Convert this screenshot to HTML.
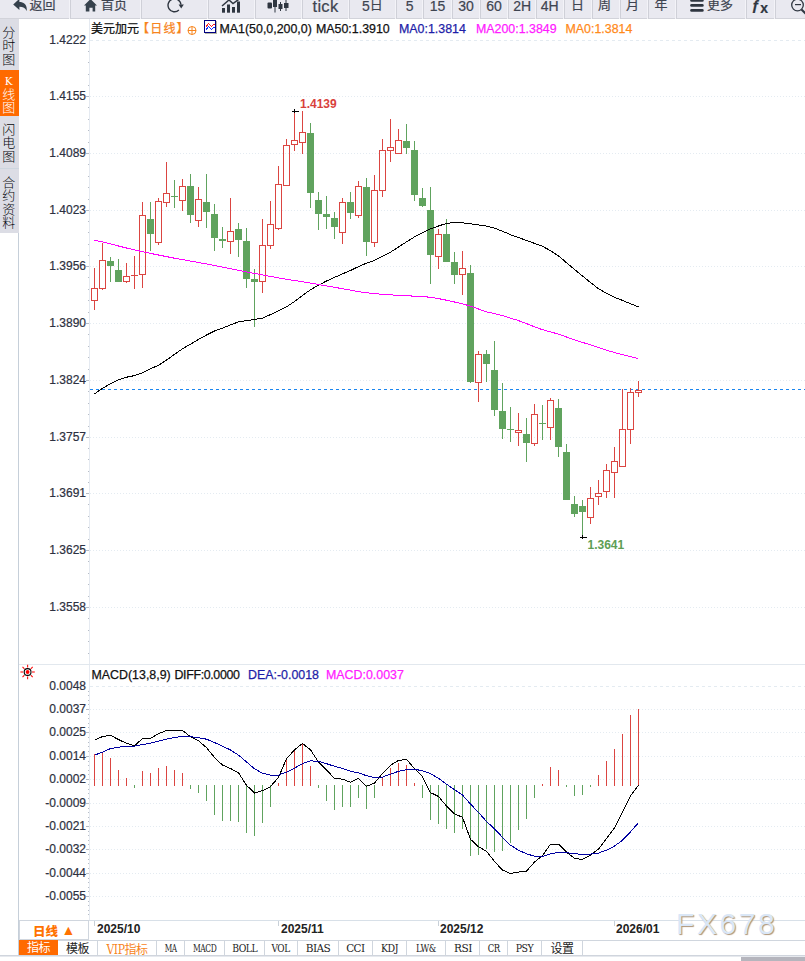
<!DOCTYPE html>
<html><head><meta charset="utf-8">
<style>
*{margin:0;padding:0;box-sizing:border-box}
html,body{width:805px;height:961px;overflow:hidden;background:#fff}
body{position:relative;font-family:"Liberation Sans","Noto Sans CJK SC",sans-serif;}
.abs{position:absolute}
#tb{position:absolute;left:0;top:0;width:805px;height:19px;background:#e9e9f0;border-bottom:1px solid #d2d3da}
.sep{position:absolute;top:0;width:2px;height:19px;border-left:1px solid #f3f3f8;border-right:1px solid #cfd0d8;margin-left:-1px}
.tt{position:absolute;top:-3px;font-size:13px;line-height:15px;color:#3e4450;white-space:nowrap;-webkit-text-stroke:0.2px currentColor}
#sb{position:absolute;left:0;top:19px;width:19px;height:214px;background:#dcdde5}
.tab{position:absolute;left:0;width:17.5px;font-family:"Noto Sans CJK SC",sans-serif;font-weight:300;font-size:13px;line-height:13.4px;color:#06080c;text-align:center}
.yl{position:absolute;right:719px;font-size:12px;line-height:16px;color:#2c3040;-webkit-text-stroke:0.2px currentColor;text-align:right;white-space:nowrap}
.hd{position:absolute;font-size:12.4px;line-height:14px;white-space:nowrap;-webkit-text-stroke:0.25px currentColor}
#bt{position:absolute;left:19px;top:940px;height:16px;}
.bt{position:absolute;top:940px;height:16px;border-right:1px solid #d0d6de;border-top:1px solid #d0d6de;font-family:"DejaVu Serif Condensed","DejaVu Serif","Noto Sans CJK SC",serif;font-size:10.5px;letter-spacing:-0.5px;line-height:15px;text-align:center;color:#222}
</style></head><body>
<div id="tb"><div class="sep" style="left:70px"></div><div class="sep" style="left:141px"></div><div class="sep" style="left:208px"></div><div class="sep" style="left:255px"></div><div class="sep" style="left:302px"></div><div class="sep" style="left:349px"></div><div class="sep" style="left:396px"></div><div class="sep" style="left:423px"></div><div class="sep" style="left:452px"></div><div class="sep" style="left:480px"></div><div class="sep" style="left:508px"></div><div class="sep" style="left:536px"></div><div class="sep" style="left:564px"></div><div class="sep" style="left:592px"></div><div class="sep" style="left:620px"></div><div class="sep" style="left:648px"></div><div class="sep" style="left:676px"></div><div class="sep" style="left:746px"></div><div class="sep" style="left:775px"></div>
<svg class="abs" style="left:0;top:0" width="805" height="18">
 <path d="M13.2,4.4 L19.4,-1.2 L19.4,2.1 C24,2.1 27.6,5.2 26.6,11 C25.4,8 23.2,6.8 19.4,6.8 L19.4,9.9 Z" fill="#34404b"/>
 <path d="M90.5,-1 L84,5.6 L85.8,5.6 L85.8,11.6 L89.4,11.6 L89.4,7.8 L92.6,7.8 L92.6,11.6 L95.2,11.6 L95.2,5.6 L97,5.6 Z" fill="#37424d"/>
 <path d="M178.9,10.1 A6.5,6.5 0 1 1 181,4.6" fill="none" stroke="#2f3640" stroke-width="1.4"/>
 <path d="M178.6,4.4 L183.8,4.4 L181.2,8.4 Z" fill="#2f3640"/>
 <g fill="#2f3640"><rect x="222" y="8" width="3" height="4.7"/><rect x="227" y="4.5" width="3" height="8.2"/><rect x="232" y="7" width="3" height="5.7"/><rect x="237" y="1.5" width="3" height="11.2"/></g>
 <polyline points="222,6 229,0 233,3.5 240,-1.5" fill="none" stroke="#2f3640" stroke-width="1.5"/>
 <g fill="#2f3640"><rect x="267.5" y="2.5" width="4.5" height="6" rx="1"/><rect x="274.5" y="0" width="1" height="12.5"/><rect x="273" y="-1" width="4" height="8"/><rect x="280" y="2" width="1" height="9"/><rect x="278.5" y="4" width="4" height="5"/><rect x="285.5" y="-1" width="1" height="12"/><rect x="284" y="3" width="4.5" height="5"/></g>
 <g fill="#2f3640"><rect x="690.2" y="-0.8" width="13.5" height="2.6" rx="1.3"/><rect x="690.2" y="4.1" width="13.5" height="2.6" rx="1.3"/><rect x="690.2" y="9.1" width="13.5" height="2.6" rx="1.3"/></g>
 <circle cx="797.5" cy="5" r="5.8" fill="none" stroke="#2f3640" stroke-width="1.3"/>
 <rect x="795" y="4" width="6" height="1.2" fill="#2f3640"/>
 <line x1="801.5" y1="9.5" x2="806" y2="14" stroke="#2f3640" stroke-width="2"/>
</svg>
<div class="tt" style="left:29.5px">返回</div>
<div class="tt" style="left:101px">首页</div>
<div class="tt" style="left:312.5px;font-size:16.5px;top:-3px;line-height:18px;letter-spacing:0.3px">tick</div>
<div class="tt" style="left:362px"><span style="position:relative;top:1.5px;font-size:14px">5</span>日</div>
<div class="tt" style="left:405.8px;top:-1px;font-size:14px">5</div>
<div class="tt" style="left:429.8px;top:-1px;font-size:14px">15</div>
<div class="tt" style="left:458.3px;top:-1px;font-size:14px">30</div>
<div class="tt" style="left:486.3px;top:-1px;font-size:14px">60</div>
<div class="tt" style="left:513.3px;top:-1px;font-size:14px">2H</div>
<div class="tt" style="left:540.8px;top:-1px;font-size:14px">4H</div>
<div class="tt" style="left:571px">日</div>
<div class="tt" style="left:598px">周</div>
<div class="tt" style="left:626px">月</div>
<div class="tt" style="left:654.5px">年</div>
<div class="tt" style="left:707px">更多</div>
<div class="tt" style="left:751.5px;font-size:15px;font-weight:bold;top:-3px;color:#2f3640">ƒ<span style="position:relative;top:2.5px;left:0.5px;font-size:14px">x</span></div>
</div>
<div id="sb">
 <div class="tab" style="top:6px">分<br>时<br>图</div>
 <div style="position:absolute;left:0;top:51px;width:19px;height:46px;background:#ff6a00"></div>
 <div class="tab" style="top:55px;color:#fff;line-height:12.9px"><span style="font-family:'DejaVu Serif',serif;font-size:10.5px;font-weight:normal">K</span><br>线<br>图</div>
 <div style="position:absolute;left:0;top:149px;width:19px;height:1px;background:#cdd6df"></div>
 <div class="tab" style="top:103px">闪<br>电<br>图</div>
 <div class="tab" style="top:156px">合<br>约<br>资<br>料</div>
</div>
<div class="yl" style="top:32px">1.4222</div><div class="yl" style="top:88px">1.4155</div><div class="yl" style="top:145px">1.4089</div><div class="yl" style="top:202px">1.4023</div><div class="yl" style="top:258px">1.3956</div><div class="yl" style="top:315px">1.3890</div><div class="yl" style="top:372px">1.3824</div><div class="yl" style="top:429px">1.3757</div><div class="yl" style="top:485px">1.3691</div><div class="yl" style="top:542px">1.3625</div><div class="yl" style="top:599px">1.3558</div><div class="yl" style="top:678px">0.0048</div><div class="yl" style="top:701px">0.0037</div><div class="yl" style="top:724px">0.0025</div><div class="yl" style="top:748px">0.0014</div><div class="yl" style="top:771px">0.0002</div><div class="yl" style="top:795px">-0.0009</div><div class="yl" style="top:818px">-0.0021</div><div class="yl" style="top:841px">-0.0032</div><div class="yl" style="top:865px">-0.0044</div><div class="yl" style="top:888px">-0.0055</div>
<svg class="abs" style="left:0;top:0" width="805" height="961">
<line x1="90" y1="40.5" x2="805" y2="40.5" stroke="#e4ebf1" stroke-dasharray="3 3"/>
<line x1="90" y1="96.5" x2="805" y2="96.5" stroke="#e4ebf1" stroke-dasharray="1 2"/>
<line x1="86" y1="96.5" x2="89" y2="96.5" stroke="#b6bcc6"/>
<line x1="90" y1="153.5" x2="805" y2="153.5" stroke="#e4ebf1" stroke-dasharray="1 2"/>
<line x1="86" y1="153.5" x2="89" y2="153.5" stroke="#b6bcc6"/>
<line x1="90" y1="210.5" x2="805" y2="210.5" stroke="#e4ebf1" stroke-dasharray="1 2"/>
<line x1="86" y1="210.5" x2="89" y2="210.5" stroke="#b6bcc6"/>
<line x1="90" y1="266.5" x2="805" y2="266.5" stroke="#e4ebf1" stroke-dasharray="1 2"/>
<line x1="86" y1="266.5" x2="89" y2="266.5" stroke="#b6bcc6"/>
<line x1="90" y1="323.5" x2="805" y2="323.5" stroke="#e4ebf1" stroke-dasharray="1 2"/>
<line x1="86" y1="323.5" x2="89" y2="323.5" stroke="#b6bcc6"/>
<line x1="90" y1="380.5" x2="805" y2="380.5" stroke="#e4ebf1" stroke-dasharray="1 2"/>
<line x1="86" y1="380.5" x2="89" y2="380.5" stroke="#b6bcc6"/>
<line x1="90" y1="437.5" x2="805" y2="437.5" stroke="#e4ebf1" stroke-dasharray="1 2"/>
<line x1="86" y1="437.5" x2="89" y2="437.5" stroke="#b6bcc6"/>
<line x1="90" y1="493.5" x2="805" y2="493.5" stroke="#e4ebf1" stroke-dasharray="1 2"/>
<line x1="86" y1="493.5" x2="89" y2="493.5" stroke="#b6bcc6"/>
<line x1="90" y1="550.5" x2="805" y2="550.5" stroke="#e4ebf1" stroke-dasharray="1 2"/>
<line x1="86" y1="550.5" x2="89" y2="550.5" stroke="#b6bcc6"/>
<line x1="90" y1="607.5" x2="805" y2="607.5" stroke="#e4ebf1" stroke-dasharray="1 2"/>
<line x1="86" y1="607.5" x2="89" y2="607.5" stroke="#b6bcc6"/>
<line x1="88" y1="51.5" x2="89" y2="51.5" stroke="#b6bcc6"/>
<line x1="88" y1="62.5" x2="89" y2="62.5" stroke="#b6bcc6"/>
<line x1="88" y1="74.5" x2="89" y2="74.5" stroke="#b6bcc6"/>
<line x1="88" y1="85.5" x2="89" y2="85.5" stroke="#b6bcc6"/>
<line x1="88" y1="107.5" x2="89" y2="107.5" stroke="#b6bcc6"/>
<line x1="88" y1="119.5" x2="89" y2="119.5" stroke="#b6bcc6"/>
<line x1="88" y1="130.5" x2="89" y2="130.5" stroke="#b6bcc6"/>
<line x1="88" y1="142.5" x2="89" y2="142.5" stroke="#b6bcc6"/>
<line x1="88" y1="164.5" x2="89" y2="164.5" stroke="#b6bcc6"/>
<line x1="88" y1="176.5" x2="89" y2="176.5" stroke="#b6bcc6"/>
<line x1="88" y1="187.5" x2="89" y2="187.5" stroke="#b6bcc6"/>
<line x1="88" y1="199.5" x2="89" y2="199.5" stroke="#b6bcc6"/>
<line x1="88" y1="221.5" x2="89" y2="221.5" stroke="#b6bcc6"/>
<line x1="88" y1="232.5" x2="89" y2="232.5" stroke="#b6bcc6"/>
<line x1="88" y1="244.5" x2="89" y2="244.5" stroke="#b6bcc6"/>
<line x1="88" y1="255.5" x2="89" y2="255.5" stroke="#b6bcc6"/>
<line x1="88" y1="277.5" x2="89" y2="277.5" stroke="#b6bcc6"/>
<line x1="88" y1="289.5" x2="89" y2="289.5" stroke="#b6bcc6"/>
<line x1="88" y1="300.5" x2="89" y2="300.5" stroke="#b6bcc6"/>
<line x1="88" y1="312.5" x2="89" y2="312.5" stroke="#b6bcc6"/>
<line x1="88" y1="334.5" x2="89" y2="334.5" stroke="#b6bcc6"/>
<line x1="88" y1="346.5" x2="89" y2="346.5" stroke="#b6bcc6"/>
<line x1="88" y1="357.5" x2="89" y2="357.5" stroke="#b6bcc6"/>
<line x1="88" y1="369.5" x2="89" y2="369.5" stroke="#b6bcc6"/>
<line x1="88" y1="391.5" x2="89" y2="391.5" stroke="#b6bcc6"/>
<line x1="88" y1="403.5" x2="89" y2="403.5" stroke="#b6bcc6"/>
<line x1="88" y1="414.5" x2="89" y2="414.5" stroke="#b6bcc6"/>
<line x1="88" y1="426.5" x2="89" y2="426.5" stroke="#b6bcc6"/>
<line x1="88" y1="448.5" x2="89" y2="448.5" stroke="#b6bcc6"/>
<line x1="88" y1="459.5" x2="89" y2="459.5" stroke="#b6bcc6"/>
<line x1="88" y1="471.5" x2="89" y2="471.5" stroke="#b6bcc6"/>
<line x1="88" y1="482.5" x2="89" y2="482.5" stroke="#b6bcc6"/>
<line x1="88" y1="504.5" x2="89" y2="504.5" stroke="#b6bcc6"/>
<line x1="88" y1="516.5" x2="89" y2="516.5" stroke="#b6bcc6"/>
<line x1="88" y1="527.5" x2="89" y2="527.5" stroke="#b6bcc6"/>
<line x1="88" y1="539.5" x2="89" y2="539.5" stroke="#b6bcc6"/>
<line x1="88" y1="561.5" x2="89" y2="561.5" stroke="#b6bcc6"/>
<line x1="88" y1="573.5" x2="89" y2="573.5" stroke="#b6bcc6"/>
<line x1="88" y1="584.5" x2="89" y2="584.5" stroke="#b6bcc6"/>
<line x1="88" y1="596.5" x2="89" y2="596.5" stroke="#b6bcc6"/>
<line x1="88" y1="618.5" x2="89" y2="618.5" stroke="#b6bcc6"/>
<line x1="88" y1="630.5" x2="89" y2="630.5" stroke="#b6bcc6"/>
<line x1="88" y1="641.5" x2="89" y2="641.5" stroke="#b6bcc6"/>
<line x1="88" y1="653.5" x2="89" y2="653.5" stroke="#b6bcc6"/>
<line x1="90" y1="686.5" x2="805" y2="686.5" stroke="#e4ebf1" stroke-dasharray="3 3"/>
<line x1="90" y1="709.5" x2="805" y2="709.5" stroke="#e4ebf1" stroke-dasharray="1 2"/>
<line x1="86" y1="709.5" x2="89" y2="709.5" stroke="#b6bcc6"/>
<line x1="90" y1="732.5" x2="805" y2="732.5" stroke="#e4ebf1" stroke-dasharray="1 2"/>
<line x1="86" y1="732.5" x2="89" y2="732.5" stroke="#b6bcc6"/>
<line x1="90" y1="756.5" x2="805" y2="756.5" stroke="#e4ebf1" stroke-dasharray="1 2"/>
<line x1="86" y1="756.5" x2="89" y2="756.5" stroke="#b6bcc6"/>
<line x1="90" y1="779.5" x2="805" y2="779.5" stroke="#e4ebf1" stroke-dasharray="1 2"/>
<line x1="86" y1="779.5" x2="89" y2="779.5" stroke="#b6bcc6"/>
<line x1="90" y1="803.5" x2="805" y2="803.5" stroke="#e4ebf1" stroke-dasharray="1 2"/>
<line x1="86" y1="803.5" x2="89" y2="803.5" stroke="#b6bcc6"/>
<line x1="90" y1="826.5" x2="805" y2="826.5" stroke="#e4ebf1" stroke-dasharray="1 2"/>
<line x1="86" y1="826.5" x2="89" y2="826.5" stroke="#b6bcc6"/>
<line x1="90" y1="849.5" x2="805" y2="849.5" stroke="#e4ebf1" stroke-dasharray="1 2"/>
<line x1="86" y1="849.5" x2="89" y2="849.5" stroke="#b6bcc6"/>
<line x1="90" y1="873.5" x2="805" y2="873.5" stroke="#e4ebf1" stroke-dasharray="1 2"/>
<line x1="86" y1="873.5" x2="89" y2="873.5" stroke="#b6bcc6"/>
<line x1="90" y1="896.5" x2="805" y2="896.5" stroke="#e4ebf1" stroke-dasharray="1 2"/>
<line x1="86" y1="896.5" x2="89" y2="896.5" stroke="#b6bcc6"/>
<line x1="88" y1="691.5" x2="89" y2="691.5" stroke="#b6bcc6"/>
<line x1="88" y1="695.5" x2="89" y2="695.5" stroke="#b6bcc6"/>
<line x1="88" y1="700.5" x2="89" y2="700.5" stroke="#b6bcc6"/>
<line x1="88" y1="704.5" x2="89" y2="704.5" stroke="#b6bcc6"/>
<line x1="88" y1="714.5" x2="89" y2="714.5" stroke="#b6bcc6"/>
<line x1="88" y1="718.5" x2="89" y2="718.5" stroke="#b6bcc6"/>
<line x1="88" y1="723.5" x2="89" y2="723.5" stroke="#b6bcc6"/>
<line x1="88" y1="727.5" x2="89" y2="727.5" stroke="#b6bcc6"/>
<line x1="88" y1="737.5" x2="89" y2="737.5" stroke="#b6bcc6"/>
<line x1="88" y1="742.5" x2="89" y2="742.5" stroke="#b6bcc6"/>
<line x1="88" y1="746.5" x2="89" y2="746.5" stroke="#b6bcc6"/>
<line x1="88" y1="751.5" x2="89" y2="751.5" stroke="#b6bcc6"/>
<line x1="88" y1="761.5" x2="89" y2="761.5" stroke="#b6bcc6"/>
<line x1="88" y1="765.5" x2="89" y2="765.5" stroke="#b6bcc6"/>
<line x1="88" y1="770.5" x2="89" y2="770.5" stroke="#b6bcc6"/>
<line x1="88" y1="774.5" x2="89" y2="774.5" stroke="#b6bcc6"/>
<line x1="88" y1="784.5" x2="89" y2="784.5" stroke="#b6bcc6"/>
<line x1="88" y1="789.5" x2="89" y2="789.5" stroke="#b6bcc6"/>
<line x1="88" y1="793.5" x2="89" y2="793.5" stroke="#b6bcc6"/>
<line x1="88" y1="798.5" x2="89" y2="798.5" stroke="#b6bcc6"/>
<line x1="88" y1="808.5" x2="89" y2="808.5" stroke="#b6bcc6"/>
<line x1="88" y1="812.5" x2="89" y2="812.5" stroke="#b6bcc6"/>
<line x1="88" y1="817.5" x2="89" y2="817.5" stroke="#b6bcc6"/>
<line x1="88" y1="821.5" x2="89" y2="821.5" stroke="#b6bcc6"/>
<line x1="88" y1="831.5" x2="89" y2="831.5" stroke="#b6bcc6"/>
<line x1="88" y1="835.5" x2="89" y2="835.5" stroke="#b6bcc6"/>
<line x1="88" y1="840.5" x2="89" y2="840.5" stroke="#b6bcc6"/>
<line x1="88" y1="844.5" x2="89" y2="844.5" stroke="#b6bcc6"/>
<line x1="88" y1="854.5" x2="89" y2="854.5" stroke="#b6bcc6"/>
<line x1="88" y1="859.5" x2="89" y2="859.5" stroke="#b6bcc6"/>
<line x1="88" y1="863.5" x2="89" y2="863.5" stroke="#b6bcc6"/>
<line x1="88" y1="868.5" x2="89" y2="868.5" stroke="#b6bcc6"/>
<line x1="88" y1="878.5" x2="89" y2="878.5" stroke="#b6bcc6"/>
<line x1="88" y1="882.5" x2="89" y2="882.5" stroke="#b6bcc6"/>
<line x1="88" y1="887.5" x2="89" y2="887.5" stroke="#b6bcc6"/>
<line x1="88" y1="891.5" x2="89" y2="891.5" stroke="#b6bcc6"/>
<line x1="88" y1="901.5" x2="89" y2="901.5" stroke="#b6bcc6"/>
<line x1="88" y1="905.5" x2="89" y2="905.5" stroke="#b6bcc6"/>
<line x1="88" y1="910.5" x2="89" y2="910.5" stroke="#b6bcc6"/>
<line x1="88" y1="914.5" x2="89" y2="914.5" stroke="#b6bcc6"/>
<line x1="89.5" y1="19" x2="89.5" y2="920" stroke="#e5eaf1"/>
<line x1="19" y1="664.5" x2="805" y2="664.5" stroke="#e2e8ee"/>
<line x1="19" y1="920.5" x2="805" y2="920.5" stroke="#d8e0e8"/>
<line x1="18.5" y1="233" x2="18.5" y2="956" stroke="#c6cfd9"/>
<line x1="90" y1="389.5" x2="805" y2="389.5" stroke="#1a86f0" stroke-dasharray="3 3"/>
<g shape-rendering="crispEdges"><rect x="94" y="268" width="1" height="20" fill="#db4541"/><rect x="94" y="301" width="1" height="9" fill="#db4541"/><rect x="91" y="288" width="7" height="1" fill="#db4541"/><rect x="91" y="300" width="7" height="1" fill="#db4541"/><rect x="91" y="288" width="1" height="13" fill="#db4541"/><rect x="97" y="288" width="1" height="13" fill="#db4541"/><rect x="102" y="243" width="1" height="17" fill="#db4541"/><rect x="102" y="289" width="1" height="1" fill="#db4541"/><rect x="99" y="260" width="7" height="1" fill="#db4541"/><rect x="99" y="288" width="7" height="1" fill="#db4541"/><rect x="99" y="260" width="1" height="29" fill="#db4541"/><rect x="105" y="260" width="1" height="29" fill="#db4541"/><rect x="110" y="257" width="1" height="25" fill="#60a35e"/><rect x="107" y="261" width="7" height="5" fill="#60a35e"/><rect x="118" y="259" width="1" height="23" fill="#60a35e"/><rect x="115" y="270" width="7" height="12" fill="#60a35e"/><rect x="126" y="263" width="1" height="13" fill="#db4541"/><rect x="126" y="282" width="1" height="1" fill="#db4541"/><rect x="123" y="276" width="7" height="1" fill="#db4541"/><rect x="123" y="281" width="7" height="1" fill="#db4541"/><rect x="123" y="276" width="1" height="6" fill="#db4541"/><rect x="129" y="276" width="1" height="6" fill="#db4541"/><rect x="134" y="256" width="1" height="19" fill="#db4541"/><rect x="134" y="276" width="1" height="13" fill="#db4541"/><rect x="131" y="275" width="7" height="1" fill="#db4541"/><rect x="142" y="202" width="1" height="13" fill="#db4541"/><rect x="142" y="275" width="1" height="13" fill="#db4541"/><rect x="139" y="215" width="7" height="1" fill="#db4541"/><rect x="139" y="274" width="7" height="1" fill="#db4541"/><rect x="139" y="215" width="1" height="60" fill="#db4541"/><rect x="145" y="215" width="1" height="60" fill="#db4541"/><rect x="150" y="202" width="1" height="49" fill="#60a35e"/><rect x="147" y="219" width="7" height="15" fill="#60a35e"/><rect x="158" y="198" width="1" height="3" fill="#db4541"/><rect x="158" y="243" width="1" height="2" fill="#db4541"/><rect x="155" y="201" width="7" height="1" fill="#db4541"/><rect x="155" y="242" width="7" height="1" fill="#db4541"/><rect x="155" y="201" width="1" height="42" fill="#db4541"/><rect x="161" y="201" width="1" height="42" fill="#db4541"/><rect x="166" y="162" width="1" height="31" fill="#db4541"/><rect x="166" y="203" width="1" height="4" fill="#db4541"/><rect x="163" y="193" width="7" height="1" fill="#db4541"/><rect x="163" y="202" width="7" height="1" fill="#db4541"/><rect x="163" y="193" width="1" height="10" fill="#db4541"/><rect x="169" y="193" width="1" height="10" fill="#db4541"/><rect x="174" y="180" width="1" height="28" fill="#60a35e"/><rect x="171" y="196" width="7" height="1" fill="#60a35e"/><rect x="182" y="179" width="1" height="7" fill="#db4541"/><rect x="182" y="201" width="1" height="10" fill="#db4541"/><rect x="179" y="186" width="7" height="1" fill="#db4541"/><rect x="179" y="200" width="7" height="1" fill="#db4541"/><rect x="179" y="186" width="1" height="15" fill="#db4541"/><rect x="185" y="186" width="1" height="15" fill="#db4541"/><rect x="190" y="174" width="1" height="49" fill="#60a35e"/><rect x="187" y="186" width="7" height="29" fill="#60a35e"/><rect x="198" y="187" width="1" height="12" fill="#db4541"/><rect x="198" y="221" width="1" height="6" fill="#db4541"/><rect x="195" y="199" width="7" height="1" fill="#db4541"/><rect x="195" y="220" width="7" height="1" fill="#db4541"/><rect x="195" y="199" width="1" height="22" fill="#db4541"/><rect x="201" y="199" width="1" height="22" fill="#db4541"/><rect x="206" y="174" width="1" height="54" fill="#60a35e"/><rect x="203" y="202" width="7" height="10" fill="#60a35e"/><rect x="214" y="204" width="1" height="47" fill="#60a35e"/><rect x="211" y="214" width="7" height="24" fill="#60a35e"/><rect x="222" y="227" width="1" height="21" fill="#60a35e"/><rect x="219" y="239" width="7" height="2" fill="#60a35e"/><rect x="230" y="198" width="1" height="33" fill="#db4541"/><rect x="230" y="242" width="1" height="12" fill="#db4541"/><rect x="227" y="231" width="7" height="1" fill="#db4541"/><rect x="227" y="241" width="7" height="1" fill="#db4541"/><rect x="227" y="231" width="1" height="11" fill="#db4541"/><rect x="233" y="231" width="1" height="11" fill="#db4541"/><rect x="238" y="223" width="1" height="34" fill="#60a35e"/><rect x="235" y="229" width="7" height="11" fill="#60a35e"/><rect x="246" y="228" width="1" height="60" fill="#60a35e"/><rect x="243" y="241" width="7" height="38" fill="#60a35e"/><rect x="254" y="269" width="1" height="58" fill="#60a35e"/><rect x="251" y="279" width="7" height="3" fill="#60a35e"/><rect x="262" y="219" width="1" height="26" fill="#db4541"/><rect x="262" y="282" width="1" height="11" fill="#db4541"/><rect x="259" y="245" width="7" height="1" fill="#db4541"/><rect x="259" y="281" width="7" height="1" fill="#db4541"/><rect x="259" y="245" width="1" height="37" fill="#db4541"/><rect x="265" y="245" width="1" height="37" fill="#db4541"/><rect x="270" y="201" width="1" height="23" fill="#db4541"/><rect x="270" y="246" width="1" height="3" fill="#db4541"/><rect x="267" y="224" width="7" height="1" fill="#db4541"/><rect x="267" y="245" width="7" height="1" fill="#db4541"/><rect x="267" y="224" width="1" height="22" fill="#db4541"/><rect x="273" y="224" width="1" height="22" fill="#db4541"/><rect x="278" y="166" width="1" height="18" fill="#db4541"/><rect x="278" y="229" width="1" height="1" fill="#db4541"/><rect x="275" y="184" width="7" height="1" fill="#db4541"/><rect x="275" y="228" width="7" height="1" fill="#db4541"/><rect x="275" y="184" width="1" height="45" fill="#db4541"/><rect x="281" y="184" width="1" height="45" fill="#db4541"/><rect x="286" y="139" width="1" height="6" fill="#db4541"/><rect x="283" y="145" width="7" height="1" fill="#db4541"/><rect x="283" y="185" width="7" height="1" fill="#db4541"/><rect x="283" y="145" width="1" height="41" fill="#db4541"/><rect x="289" y="145" width="1" height="41" fill="#db4541"/><rect x="294" y="111" width="1" height="29" fill="#db4541"/><rect x="294" y="145" width="1" height="6" fill="#db4541"/><rect x="291" y="140" width="7" height="1" fill="#db4541"/><rect x="291" y="144" width="7" height="1" fill="#db4541"/><rect x="291" y="140" width="1" height="5" fill="#db4541"/><rect x="297" y="140" width="1" height="5" fill="#db4541"/><rect x="302" y="111" width="1" height="21" fill="#db4541"/><rect x="302" y="143" width="1" height="11" fill="#db4541"/><rect x="299" y="132" width="7" height="1" fill="#db4541"/><rect x="299" y="142" width="7" height="1" fill="#db4541"/><rect x="299" y="132" width="1" height="11" fill="#db4541"/><rect x="305" y="132" width="1" height="11" fill="#db4541"/><rect x="310" y="123" width="1" height="85" fill="#60a35e"/><rect x="307" y="133" width="7" height="60" fill="#60a35e"/><rect x="318" y="192" width="1" height="38" fill="#60a35e"/><rect x="315" y="200" width="7" height="14" fill="#60a35e"/><rect x="326" y="196" width="1" height="33" fill="#60a35e"/><rect x="323" y="214" width="7" height="3" fill="#60a35e"/><rect x="334" y="212" width="1" height="27" fill="#60a35e"/><rect x="331" y="218" width="7" height="9" fill="#60a35e"/><rect x="342" y="198" width="1" height="4" fill="#db4541"/><rect x="342" y="233" width="1" height="11" fill="#db4541"/><rect x="339" y="202" width="7" height="1" fill="#db4541"/><rect x="339" y="232" width="7" height="1" fill="#db4541"/><rect x="339" y="202" width="1" height="31" fill="#db4541"/><rect x="345" y="202" width="1" height="31" fill="#db4541"/><rect x="350" y="192" width="1" height="27" fill="#60a35e"/><rect x="347" y="202" width="7" height="11" fill="#60a35e"/><rect x="358" y="181" width="1" height="5" fill="#db4541"/><rect x="358" y="216" width="1" height="2" fill="#db4541"/><rect x="355" y="186" width="7" height="1" fill="#db4541"/><rect x="355" y="215" width="7" height="1" fill="#db4541"/><rect x="355" y="186" width="1" height="30" fill="#db4541"/><rect x="361" y="186" width="1" height="30" fill="#db4541"/><rect x="366" y="178" width="1" height="78" fill="#60a35e"/><rect x="363" y="187" width="7" height="55" fill="#60a35e"/><rect x="374" y="175" width="1" height="15" fill="#db4541"/><rect x="374" y="243" width="1" height="4" fill="#db4541"/><rect x="371" y="190" width="7" height="1" fill="#db4541"/><rect x="371" y="242" width="7" height="1" fill="#db4541"/><rect x="371" y="190" width="1" height="53" fill="#db4541"/><rect x="377" y="190" width="1" height="53" fill="#db4541"/><rect x="382" y="139" width="1" height="11" fill="#db4541"/><rect x="382" y="191" width="1" height="6" fill="#db4541"/><rect x="379" y="150" width="7" height="1" fill="#db4541"/><rect x="379" y="190" width="7" height="1" fill="#db4541"/><rect x="379" y="150" width="1" height="41" fill="#db4541"/><rect x="385" y="150" width="1" height="41" fill="#db4541"/><rect x="390" y="119" width="1" height="28" fill="#db4541"/><rect x="390" y="151" width="1" height="11" fill="#db4541"/><rect x="387" y="147" width="7" height="1" fill="#db4541"/><rect x="387" y="150" width="7" height="1" fill="#db4541"/><rect x="387" y="147" width="1" height="4" fill="#db4541"/><rect x="393" y="147" width="1" height="4" fill="#db4541"/><rect x="398" y="129" width="1" height="11" fill="#db4541"/><rect x="395" y="140" width="7" height="1" fill="#db4541"/><rect x="395" y="153" width="7" height="1" fill="#db4541"/><rect x="395" y="140" width="1" height="14" fill="#db4541"/><rect x="401" y="140" width="1" height="14" fill="#db4541"/><rect x="406" y="124" width="1" height="30" fill="#60a35e"/><rect x="403" y="141" width="7" height="7" fill="#60a35e"/><rect x="414" y="141" width="1" height="60" fill="#60a35e"/><rect x="411" y="150" width="7" height="45" fill="#60a35e"/><rect x="422" y="188" width="1" height="19" fill="#60a35e"/><rect x="419" y="198" width="7" height="8" fill="#60a35e"/><rect x="430" y="187" width="1" height="97" fill="#60a35e"/><rect x="427" y="210" width="7" height="45" fill="#60a35e"/><rect x="438" y="229" width="1" height="5" fill="#db4541"/><rect x="438" y="257" width="1" height="12" fill="#db4541"/><rect x="435" y="234" width="7" height="1" fill="#db4541"/><rect x="435" y="256" width="7" height="1" fill="#db4541"/><rect x="435" y="234" width="1" height="23" fill="#db4541"/><rect x="441" y="234" width="1" height="23" fill="#db4541"/><rect x="446" y="219" width="1" height="43" fill="#60a35e"/><rect x="443" y="234" width="7" height="28" fill="#60a35e"/><rect x="454" y="252" width="1" height="32" fill="#60a35e"/><rect x="451" y="262" width="7" height="13" fill="#60a35e"/><rect x="462" y="251" width="1" height="17" fill="#db4541"/><rect x="462" y="275" width="1" height="20" fill="#db4541"/><rect x="459" y="268" width="7" height="1" fill="#db4541"/><rect x="459" y="274" width="7" height="1" fill="#db4541"/><rect x="459" y="268" width="1" height="7" fill="#db4541"/><rect x="465" y="268" width="1" height="7" fill="#db4541"/><rect x="470" y="265" width="1" height="118" fill="#60a35e"/><rect x="467" y="273" width="7" height="109" fill="#60a35e"/><rect x="478" y="351" width="1" height="3" fill="#db4541"/><rect x="478" y="383" width="1" height="19" fill="#db4541"/><rect x="475" y="354" width="7" height="1" fill="#db4541"/><rect x="475" y="382" width="7" height="1" fill="#db4541"/><rect x="475" y="354" width="1" height="29" fill="#db4541"/><rect x="481" y="354" width="1" height="29" fill="#db4541"/><rect x="486" y="350" width="1" height="32" fill="#60a35e"/><rect x="483" y="354" width="7" height="10" fill="#60a35e"/><rect x="494" y="341" width="1" height="75" fill="#60a35e"/><rect x="491" y="370" width="7" height="40" fill="#60a35e"/><rect x="502" y="383" width="1" height="56" fill="#60a35e"/><rect x="499" y="411" width="7" height="18" fill="#60a35e"/><rect x="510" y="407" width="1" height="35" fill="#60a35e"/><rect x="507" y="429" width="7" height="1" fill="#60a35e"/><rect x="518" y="413" width="1" height="17" fill="#db4541"/><rect x="518" y="433" width="1" height="13" fill="#db4541"/><rect x="515" y="430" width="7" height="1" fill="#db4541"/><rect x="515" y="432" width="7" height="1" fill="#db4541"/><rect x="515" y="430" width="1" height="3" fill="#db4541"/><rect x="521" y="430" width="1" height="3" fill="#db4541"/><rect x="526" y="418" width="1" height="44" fill="#60a35e"/><rect x="523" y="434" width="7" height="9" fill="#60a35e"/><rect x="534" y="404" width="1" height="10" fill="#db4541"/><rect x="534" y="444" width="1" height="2" fill="#db4541"/><rect x="531" y="414" width="7" height="1" fill="#db4541"/><rect x="531" y="443" width="7" height="1" fill="#db4541"/><rect x="531" y="414" width="1" height="30" fill="#db4541"/><rect x="537" y="414" width="1" height="30" fill="#db4541"/><rect x="542" y="405" width="1" height="35" fill="#60a35e"/><rect x="539" y="423" width="7" height="1" fill="#60a35e"/><rect x="550" y="398" width="1" height="2" fill="#db4541"/><rect x="550" y="428" width="1" height="12" fill="#db4541"/><rect x="547" y="400" width="7" height="1" fill="#db4541"/><rect x="547" y="427" width="7" height="1" fill="#db4541"/><rect x="547" y="400" width="1" height="28" fill="#db4541"/><rect x="553" y="400" width="1" height="28" fill="#db4541"/><rect x="558" y="399" width="1" height="58" fill="#60a35e"/><rect x="555" y="408" width="7" height="39" fill="#60a35e"/><rect x="566" y="444" width="1" height="56" fill="#60a35e"/><rect x="563" y="452" width="7" height="48" fill="#60a35e"/><rect x="574" y="496" width="1" height="21" fill="#60a35e"/><rect x="571" y="504" width="7" height="10" fill="#60a35e"/><rect x="582" y="500" width="1" height="37" fill="#60a35e"/><rect x="579" y="506" width="7" height="6" fill="#60a35e"/><rect x="590" y="487" width="1" height="11" fill="#db4541"/><rect x="590" y="518" width="1" height="6" fill="#db4541"/><rect x="587" y="498" width="7" height="1" fill="#db4541"/><rect x="587" y="517" width="7" height="1" fill="#db4541"/><rect x="587" y="498" width="1" height="20" fill="#db4541"/><rect x="593" y="498" width="1" height="20" fill="#db4541"/><rect x="598" y="480" width="1" height="13" fill="#db4541"/><rect x="598" y="497" width="1" height="8" fill="#db4541"/><rect x="595" y="493" width="7" height="1" fill="#db4541"/><rect x="595" y="496" width="7" height="1" fill="#db4541"/><rect x="595" y="493" width="1" height="4" fill="#db4541"/><rect x="601" y="493" width="1" height="4" fill="#db4541"/><rect x="606" y="464" width="1" height="6" fill="#db4541"/><rect x="606" y="492" width="1" height="6" fill="#db4541"/><rect x="603" y="470" width="7" height="1" fill="#db4541"/><rect x="603" y="491" width="7" height="1" fill="#db4541"/><rect x="603" y="470" width="1" height="22" fill="#db4541"/><rect x="609" y="470" width="1" height="22" fill="#db4541"/><rect x="614" y="447" width="1" height="14" fill="#db4541"/><rect x="614" y="473" width="1" height="25" fill="#db4541"/><rect x="611" y="461" width="7" height="1" fill="#db4541"/><rect x="611" y="472" width="7" height="1" fill="#db4541"/><rect x="611" y="461" width="1" height="12" fill="#db4541"/><rect x="617" y="461" width="1" height="12" fill="#db4541"/><rect x="622" y="389" width="1" height="40" fill="#db4541"/><rect x="619" y="429" width="7" height="1" fill="#db4541"/><rect x="619" y="466" width="7" height="1" fill="#db4541"/><rect x="619" y="429" width="1" height="38" fill="#db4541"/><rect x="625" y="429" width="1" height="38" fill="#db4541"/><rect x="630" y="388" width="1" height="4" fill="#db4541"/><rect x="630" y="430" width="1" height="14" fill="#db4541"/><rect x="627" y="392" width="7" height="1" fill="#db4541"/><rect x="627" y="429" width="7" height="1" fill="#db4541"/><rect x="627" y="392" width="1" height="38" fill="#db4541"/><rect x="633" y="392" width="1" height="38" fill="#db4541"/><rect x="638" y="381" width="1" height="9" fill="#db4541"/><rect x="638" y="393" width="1" height="4" fill="#db4541"/><rect x="635" y="390" width="7" height="1" fill="#db4541"/><rect x="635" y="392" width="7" height="1" fill="#db4541"/><rect x="635" y="390" width="1" height="3" fill="#db4541"/><rect x="641" y="390" width="1" height="3" fill="#db4541"/></g>
<polyline fill="none" stroke="#000" stroke-width="1" shape-rendering="crispEdges" points="94.5,393.8 102.5,388.4 110.5,383.6 118.5,379.9 126.5,377.2 134.5,375.6 142.5,372.8 150.5,368.8 158.5,365.2 166.5,360.1 174.5,354.4 182.5,348.8 190.5,344.1 198.5,339.5 206.5,335.0 214.5,331.0 222.5,328.2 230.5,324.8 238.5,321.9 246.5,320.7 254.5,319.4 262.5,318.1 270.5,314.6 278.5,310.8 286.5,306.8 294.5,301.5 302.5,295.5 310.5,289.7 318.5,285.2 326.5,281.0 334.5,277.4 342.5,273.9 350.5,270.5 358.5,266.6 366.5,263.2 374.5,260.4 382.5,256.4 390.5,252.2 398.5,247.0 406.5,241.9 414.5,236.9 422.5,232.7 430.5,228.8 438.5,226.0 446.5,223.4 454.5,222.6 462.5,222.8 470.5,223.8 478.5,224.9 486.5,226.1 494.5,228.2 502.5,231.2 510.5,234.7 518.5,237.6 526.5,240.4 534.5,243.4 542.5,246.3 550.5,250.7 558.5,255.9 566.5,262.7 574.5,269.4 582.5,276.0 590.5,282.5 598.5,288.7 606.5,293.3 614.5,297.4 622.5,300.4 630.5,303.7 638.5,307.0"/>
<polyline fill="none" stroke="#ff00ff" stroke-width="1" shape-rendering="crispEdges" points="94.5,240.5 102.5,241.8 110.5,243.9 118.5,246.0 126.5,248.0 134.5,249.8 142.5,251.7 150.5,253.4 158.5,255.0 166.5,256.6 174.5,258.2 182.5,259.6 190.5,261.1 198.5,262.5 206.5,263.9 214.5,265.5 222.5,267.1 230.5,268.7 238.5,270.3 246.5,271.9 254.5,273.4 262.5,274.9 270.5,276.4 278.5,277.9 286.5,279.3 294.5,280.5 302.5,281.8 310.5,283.1 318.5,284.5 326.5,285.9 334.5,287.3 342.5,288.7 350.5,290.1 358.5,291.6 366.5,292.7 374.5,293.6 382.5,294.4 390.5,294.9 398.5,295.3 406.5,295.7 414.5,296.2 422.5,296.7 430.5,297.2 438.5,298.6 446.5,300.2 454.5,302.0 462.5,303.9 470.5,306.1 478.5,309.0 486.5,311.8 494.5,313.7 502.5,315.6 510.5,318.1 518.5,320.6 526.5,323.6 534.5,326.8 542.5,329.7 550.5,331.9 558.5,334.1 566.5,337.0 574.5,339.9 582.5,342.4 590.5,344.8 598.5,347.4 606.5,350.1 614.5,352.6 622.5,354.7 630.5,356.7 638.5,358.5"/>
<g shape-rendering="crispEdges"><rect x="292" y="111" width="7" height="1" fill="#000"/><rect x="294" y="109" width="1" height="4" fill="#000"/><rect x="580" y="537" width="7" height="1" fill="#000"/><rect x="582" y="535" width="1" height="4" fill="#000"/></g>
<text x="300" y="108" font-family="Liberation Sans, sans-serif" font-size="12" font-weight="bold" fill="#d9413c">1.4139</text>
<text x="587.5" y="549" font-family="Liberation Sans, sans-serif" font-size="12" font-weight="bold" fill="#5e9e55">1.3641</text>
<g shape-rendering="crispEdges"><rect x="94" y="754" width="1" height="32" fill="#db4541"/><rect x="102" y="752" width="1" height="34" fill="#db4541"/><rect x="110" y="758" width="1" height="28" fill="#db4541"/><rect x="118" y="770" width="1" height="16" fill="#db4541"/><rect x="126" y="778" width="1" height="8" fill="#db4541"/><rect x="134" y="785" width="1" height="3" fill="#60a35e"/><rect x="142" y="771" width="1" height="15" fill="#db4541"/><rect x="150" y="773" width="1" height="13" fill="#db4541"/><rect x="158" y="768" width="1" height="18" fill="#db4541"/><rect x="166" y="766" width="1" height="20" fill="#db4541"/><rect x="174" y="770" width="1" height="16" fill="#db4541"/><rect x="182" y="773" width="1" height="13" fill="#db4541"/><rect x="190" y="785" width="1" height="4" fill="#60a35e"/><rect x="198" y="785" width="1" height="8" fill="#60a35e"/><rect x="206" y="785" width="1" height="16" fill="#60a35e"/><rect x="214" y="785" width="1" height="30" fill="#60a35e"/><rect x="222" y="785" width="1" height="36" fill="#60a35e"/><rect x="230" y="785" width="1" height="36" fill="#60a35e"/><rect x="238" y="785" width="1" height="37" fill="#60a35e"/><rect x="246" y="785" width="1" height="48" fill="#60a35e"/><rect x="254" y="785" width="1" height="51" fill="#60a35e"/><rect x="262" y="785" width="1" height="38" fill="#60a35e"/><rect x="270" y="785" width="1" height="22" fill="#60a35e"/><rect x="278" y="783" width="1" height="3" fill="#db4541"/><rect x="286" y="760" width="1" height="26" fill="#db4541"/><rect x="294" y="749" width="1" height="37" fill="#db4541"/><rect x="302" y="743" width="1" height="43" fill="#db4541"/><rect x="310" y="766" width="1" height="20" fill="#db4541"/><rect x="318" y="785" width="1" height="3" fill="#60a35e"/><rect x="326" y="785" width="1" height="16" fill="#60a35e"/><rect x="334" y="785" width="1" height="25" fill="#60a35e"/><rect x="342" y="785" width="1" height="22" fill="#60a35e"/><rect x="350" y="785" width="1" height="22" fill="#60a35e"/><rect x="358" y="785" width="1" height="13" fill="#60a35e"/><rect x="366" y="785" width="1" height="24" fill="#60a35e"/><rect x="374" y="785" width="1" height="13" fill="#60a35e"/><rect x="382" y="778" width="1" height="8" fill="#db4541"/><rect x="390" y="768" width="1" height="18" fill="#db4541"/><rect x="398" y="763" width="1" height="23" fill="#db4541"/><rect x="406" y="765" width="1" height="21" fill="#db4541"/><rect x="414" y="783" width="1" height="3" fill="#db4541"/><rect x="422" y="785" width="1" height="13" fill="#60a35e"/><rect x="430" y="785" width="1" height="35" fill="#60a35e"/><rect x="438" y="785" width="1" height="39" fill="#60a35e"/><rect x="446" y="785" width="1" height="44" fill="#60a35e"/><rect x="454" y="785" width="1" height="48" fill="#60a35e"/><rect x="462" y="785" width="1" height="44" fill="#60a35e"/><rect x="470" y="785" width="1" height="71" fill="#60a35e"/><rect x="478" y="785" width="1" height="70" fill="#60a35e"/><rect x="486" y="785" width="1" height="64" fill="#60a35e"/><rect x="494" y="785" width="1" height="67" fill="#60a35e"/><rect x="502" y="785" width="1" height="66" fill="#60a35e"/><rect x="510" y="785" width="1" height="58" fill="#60a35e"/><rect x="518" y="785" width="1" height="45" fill="#60a35e"/><rect x="526" y="785" width="1" height="34" fill="#60a35e"/><rect x="534" y="785" width="1" height="13" fill="#60a35e"/><rect x="542" y="784" width="1" height="2" fill="#db4541"/><rect x="550" y="767" width="1" height="19" fill="#db4541"/><rect x="558" y="770" width="1" height="16" fill="#db4541"/><rect x="566" y="785" width="1" height="2" fill="#60a35e"/><rect x="574" y="785" width="1" height="11" fill="#60a35e"/><rect x="582" y="785" width="1" height="10" fill="#60a35e"/><rect x="590" y="785" width="1" height="2" fill="#60a35e"/><rect x="598" y="775" width="1" height="11" fill="#db4541"/><rect x="606" y="761" width="1" height="25" fill="#db4541"/><rect x="614" y="749" width="1" height="37" fill="#db4541"/><rect x="622" y="734" width="1" height="52" fill="#db4541"/><rect x="630" y="715" width="1" height="71" fill="#db4541"/><rect x="638" y="709" width="1" height="77" fill="#db4541"/></g>
<polyline fill="none" stroke="#000" shape-rendering="crispEdges" points="94.5,740.2 102.5,736.5 110.5,735.3 118.5,739.6 126.5,743.2 134.5,746.0 142.5,738.4 150.5,738.4 158.5,733.7 166.5,730.5 174.5,730.5 182.5,730.5 190.5,736.7 198.5,740.8 206.5,747.6 214.5,757.5 222.5,765.1 230.5,768.5 238.5,772.8 246.5,785.3 254.5,793.0 262.5,790.6 270.5,786.6 278.5,777.3 286.5,758.8 294.5,749.8 302.5,743.5 310.5,749.8 318.5,762.1 326.5,770.1 334.5,778.3 342.5,779.2 350.5,782.2 358.5,778.3 366.5,786.2 374.5,783.2 382.5,773.3 390.5,765.3 398.5,760.4 406.5,759.4 414.5,768.7 422.5,776.7 430.5,792.6 438.5,796.5 446.5,806.1 454.5,813.8 462.5,817.4 470.5,839.3 478.5,846.8 486.5,851.2 494.5,861.5 502.5,870.1 510.5,873.5 518.5,872.1 526.5,871.1 534.5,862.1 542.5,855.6 550.5,844.1 558.5,844.1 566.5,852.1 574.5,858.4 582.5,859.4 590.5,855.1 598.5,849.1 606.5,838.6 614.5,827.8 622.5,812.3 630.5,796.0 638.5,785.1"/>
<polyline fill="none" stroke="#0000a0" shape-rendering="crispEdges" points="94.5,755.1 102.5,752.2 110.5,748.6 118.5,747.2 126.5,746.4 134.5,746.2 142.5,744.6 150.5,743.2 158.5,741.2 166.5,739.2 174.5,737.5 182.5,736.5 190.5,736.7 198.5,737.7 206.5,739.2 214.5,742.6 222.5,746.2 230.5,750.0 238.5,755.1 246.5,762.0 254.5,768.7 262.5,773.3 270.5,775.1 278.5,775.1 286.5,772.1 294.5,768.1 302.5,763.7 310.5,760.8 318.5,761.4 326.5,763.7 334.5,766.3 342.5,768.3 350.5,771.3 358.5,772.9 366.5,775.7 374.5,777.7 382.5,777.1 390.5,774.1 398.5,771.3 406.5,769.7 414.5,769.3 422.5,770.7 430.5,773.7 438.5,778.3 446.5,784.2 454.5,789.6 462.5,795.1 470.5,804.1 478.5,812.4 486.5,821.4 494.5,828.9 502.5,837.3 510.5,845.2 518.5,850.2 526.5,853.8 534.5,856.2 542.5,856.5 550.5,853.7 558.5,852.5 566.5,852.7 574.5,853.7 582.5,854.5 590.5,854.1 598.5,853.1 606.5,850.1 614.5,846.1 622.5,840.2 630.5,831.8 638.5,822.7"/>
<line x1="94.5" y1="921" x2="94.5" y2="926" stroke="#c8d0d8"/>
<line x1="278.5" y1="921" x2="278.5" y2="926" stroke="#c8d0d8"/>
<line x1="438.5" y1="921" x2="438.5" y2="926" stroke="#c8d0d8"/>
<line x1="614.5" y1="921" x2="614.5" y2="926" stroke="#c8d0d8"/>
</svg>
<!-- header -->
<div class="hd" style="left:91px;top:22px;color:#111;font-size:12px">美元加元</div>
<div class="hd" style="left:137px;top:22px;color:#f7841c;font-size:12px;letter-spacing:1.2px">【日线】</div>
<svg class="abs" style="left:186px;top:25px" width="12" height="12"><circle cx="6" cy="5.5" r="4" fill="none" stroke="#f7841c"/><line x1="2" y1="5.5" x2="10" y2="5.5" stroke="#f7841c"/><line x1="6" y1="1.5" x2="6" y2="9.5" stroke="#f7841c"/></svg>
<svg class="abs" style="left:0;top:0" width="240" height="40" shape-rendering="crispEdges"><rect x="216" y="21" width="1" height="13" fill="#b5b5a5"/><rect x="205" y="33" width="12" height="1" fill="#b5b5a5"/><rect x="204.5" y="20.5" width="11" height="12" fill="#fff" stroke="#000080"/><polyline points="205.5,27.5 208.5,23.5 211.5,26.5 213.5,24.5 215,24.5" fill="none" stroke="#ff2020"/><polyline points="205.5,30.5 208.5,26.5 211.5,29.5 213.5,27.5 215,27.5" fill="none" stroke="#1030ff"/></svg>
<div class="hd" style="left:219.5px;top:22px;color:#111">MA1(50,0,200,0)</div>
<div class="hd" style="left:316px;top:22px;color:#111">MA50:1.3910</div>
<div class="hd" style="left:399px;top:22px;color:#1e1ea8">MA0:1.3814</div>
<div class="hd" style="left:476px;top:22px;color:#ff1cff">MA200:1.3849</div>
<div class="hd" style="left:565.5px;top:22px;color:#ff8a1a">MA0:1.3814</div>
<!-- macd header -->
<svg class="abs" style="left:20px;top:664px" width="16" height="16">
 <g stroke="#ff1010" stroke-width="1.1"><line x1="7.6" y1="0.8" x2="7.6" y2="3.6"/><line x1="7.6" y1="12.4" x2="7.6" y2="15.2"/><line x1="0.4" y1="8" x2="3.2" y2="8"/><line x1="12" y1="8" x2="14.8" y2="8"/><line x1="2.5" y1="2.9" x2="4.4" y2="4.8"/><line x1="10.8" y1="11.2" x2="12.7" y2="13.1"/><line x1="12.7" y1="2.9" x2="10.8" y2="4.8"/><line x1="2.5" y1="13.1" x2="4.4" y2="11.2"/></g>
 <circle cx="7.6" cy="8" r="3.4" fill="#fff" stroke="#000" stroke-width="1.1"/><circle cx="7.6" cy="8" r="1.9" fill="#ff0000"/>
</svg>
<div class="hd" style="left:91.5px;top:668px;color:#111">MACD(13,8,9)</div>
<div class="hd" style="left:174.5px;top:668px;color:#111;letter-spacing:-0.35px">DIFF:0.0000</div>
<div class="hd" style="left:248px;top:668px;color:#1e1ea8">DEA:-0.0018</div>
<div class="hd" style="left:326px;top:668px;color:#ff1cff">MACD:0.0037</div>
<!-- bottom axis -->
<div class="abs" style="left:19px;top:920px;width:70px;height:20px;border:1px solid #d0d6de;border-right:1px solid #d0d6de;"></div>
<div class="abs" style="left:33px;top:922px;font-family:'Liberation Sans','Noto Sans CJK SC',sans-serif;font-size:12.5px;line-height:18px;font-weight:900;color:#ff7200">日线<span style="font-size:14px;margin-left:3.5px;position:relative;top:-1px">▲</span></div>
<div class="abs" style="left:97px;top:921px;font-size:12px;font-weight:bold;line-height:16px;color:#222">2025/10</div>
<div class="abs" style="left:281px;top:921px;font-size:12px;font-weight:bold;line-height:16px;color:#222">2025/11</div>
<div class="abs" style="left:440px;top:921px;font-size:12px;font-weight:bold;line-height:16px;color:#222">2025/12</div>
<div class="abs" style="left:616px;top:921px;font-size:12px;font-weight:bold;line-height:16px;color:#222">2026/01</div>
<!-- watermark -->
<div class="abs" style="left:676px;top:907px;font-family:'Liberation Sans',sans-serif;font-size:30px;line-height:34px;letter-spacing:2.6px;color:#dae7f7;text-shadow:1px 1px 1px #ad9478">FX678</div>
<!-- bottom tabs -->
<div class="abs" style="left:19px;top:940px;width:786px;height:16px;border-top:1px solid #d0d6de;border-bottom:1px solid #c4c9d2"></div>
<div class="bt" style="left:19px;width:39px;background:#ff6a00;color:#fff;font-family:'Noto Sans CJK SC',sans-serif;font-size:12px;line-height:13px;border:none">指标</div>
<div class="bt" style="left:58px;width:40px;font-family:'Noto Sans CJK SC',sans-serif;font-size:12px;line-height:13px">模板</div>
<div class="bt" style="left:98px;width:59px;color:#f7841c;font-size:12px">VIP<span style="font-family:'Noto Sans CJK SC'">指标</span></div>
<div class="bt" style="left:157px;width:28px"><span style="display:inline-block;transform:scaleX(0.78)">MA</span></div>
<div class="bt" style="left:185px;width:40px"><span style="display:inline-block;transform:scaleX(0.8)">MACD</span></div>
<div class="bt" style="left:225px;width:40px"><span style="display:inline-block;transform:scaleX(0.98)">BOLL</span></div>
<div class="bt" style="left:265px;width:33px"><span style="display:inline-block;transform:scaleX(0.94)">VOL</span></div>
<div class="bt" style="left:298px;width:41px"><span style="display:inline-block;transform:scaleX(1.12)">BIAS</span></div>
<div class="bt" style="left:339px;width:34px"><span style="display:inline-block;transform:scaleX(1.1)">CCI</span></div>
<div class="bt" style="left:373px;width:34px"><span style="display:inline-block;transform:scaleX(1.0)">KDJ</span></div>
<div class="bt" style="left:407px;width:39px"><span style="display:inline-block;transform:scaleX(0.9)">LW&amp;</span></div>
<div class="bt" style="left:446px;width:34px"><span style="display:inline-block;transform:scaleX(1.12)">RSI</span></div>
<div class="bt" style="left:480px;width:28px"><span style="display:inline-block;transform:scaleX(0.9)">CR</span></div>
<div class="bt" style="left:508px;width:34px"><span style="display:inline-block;transform:scaleX(1.0)">PSY</span></div>
<div class="bt" style="left:542px;width:41px;font-family:'Noto Sans CJK SC',sans-serif;font-size:12px;line-height:13px">设置</div>
<div class="abs" style="left:0;top:955px;width:805px;height:1px;background:#d0d5dd"></div><div class="abs" style="left:0;top:956px;width:805px;height:1px;background:#e6e9ee"></div>
<div class="abs" style="left:741px;top:957px;width:64px;height:4px;background:#b5b5bd"></div>
</body></html>
